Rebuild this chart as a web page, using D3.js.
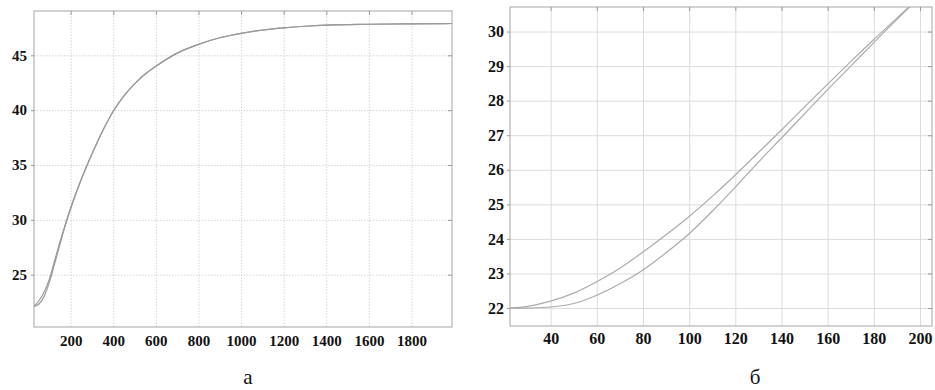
<!DOCTYPE html>
<html>
<head>
<meta charset="utf-8">
<script src="https://cdn.jsdelivr.net/npm/d3@7"></script>
<style>
  body { margin: 0; background: #fff; }
  svg { display: block; }
</style>
</head>
<body>
<script>
// panel a — full transient
const aX = [28, 50, 75, 100, 125, 150, 175, 200, 250, 300, 350, 400, 450, 500, 550, 600, 700, 800, 900, 1000, 1100, 1200, 1300, 1400, 1600, 1800, 1990]
const aY1 = [22.1, 22.3, 23.0, 24.3, 26.0, 27.8, 29.5, 31.0, 33.7, 36.0, 38.1, 39.9, 41.3, 42.4, 43.3, 44.0, 45.2, 46.0, 46.6, 47.0, 47.3, 47.5, 47.65, 47.75, 47.83, 47.87, 47.9]
const aY2 = [22.1, 22.6, 23.4, 24.6, 26.3, 28.0, 29.6, 31.1, 33.7, 36.0, 38.1, 39.9, 41.3, 42.4, 43.3, 44.0, 45.2, 46.0, 46.6, 47.0, 47.3, 47.5, 47.65, 47.75, 47.83, 47.87, 47.9]
const aXTicks = [200, 400, 600, 800, 1000, 1200, 1400, 1600, 1800]
const aYTicks = [25, 30, 35, 40, 45]

// panel б — zoom on the start
const bX = [22.4, 30, 40, 50, 60, 70, 80, 90, 100, 110, 120, 130, 140, 150, 160, 170, 180, 190, 200]
const bUpper = [22.0, 22.05, 22.2, 22.43, 22.76, 23.15, 23.62, 24.12, 24.65, 25.23, 25.85, 26.5, 27.15, 27.82, 28.48, 29.13, 29.77, 30.39, 31.0]
const bLower = [22.0, 22.0, 22.03, 22.13, 22.37, 22.7, 23.1, 23.6, 24.15, 24.8, 25.5, 26.22, 26.92, 27.62, 28.32, 29.0, 29.68, 30.35, 31.0]
const bXTicks = [40, 60, 80, 100, 120, 140, 160, 180, 200]
const bYTicks = [22, 23, 24, 25, 26, 27, 28, 29, 30]

const svg = d3.select("body").append("svg").attr("width", 935).attr("height", 390)
const serif = "'Liberation Serif', 'DejaVu Serif', serif"

function drawPanel(p) {
    const x = d3.scaleLinear().domain(p.xDomain).range([p.left, p.right])
    const y = d3.scaleLinear().domain(p.yDomain).range([p.bottom, p.top])
    const g = svg.append("g")
    const clipId = "clip-" + p.name

    g.append("clipPath").attr("id", clipId)
        .append("rect")
        .attr("x", p.left).attr("y", p.top)
        .attr("width", p.right - p.left).attr("height", p.bottom - p.top)

    // grid
    g.append("g")
        .attr("transform", `translate(0,${p.bottom})`)
        .call(d3.axisBottom(x).tickValues(p.xTicks).tickSize(-(p.bottom - p.top)).tickFormat(""))
        .call(s => s.select(".domain").remove())
        .selectAll("line").attr("stroke", p.gridColor).attr("stroke-dasharray", p.gridDash)
    g.append("g")
        .attr("transform", `translate(${p.left},0)`)
        .call(d3.axisLeft(y).tickValues(p.yTicks).tickSize(-(p.right - p.left)).tickFormat(""))
        .call(s => s.select(".domain").remove())
        .selectAll("line").attr("stroke", p.gridColor).attr("stroke-dasharray", p.gridDash)

    // frame
    g.append("rect")
        .attr("x", p.left).attr("y", p.top)
        .attr("width", p.right - p.left).attr("height", p.bottom - p.top)
        .attr("fill", "none").attr("stroke", "#b4b4b4").attr("stroke-width", 1.2)

    // small inner tick marks on top and right edges
    g.append("g").attr("transform", `translate(0,${p.top})`)
        .call(d3.axisTop(x).tickValues(p.xTicks).tickSize(-4).tickFormat(""))
        .call(s => s.select(".domain").remove())
        .selectAll("line").attr("stroke", "#999")
    g.append("g").attr("transform", `translate(${p.right},0)`)
        .call(d3.axisRight(y).tickValues(p.yTicks).tickSize(-4).tickFormat(""))
        .call(s => s.select(".domain").remove())
        .selectAll("line").attr("stroke", "#999")

    // labels
    g.append("g")
        .attr("transform", `translate(0,${p.bottom})`)
        .call(d3.axisBottom(x).tickValues(p.xTicks).tickSize(0).tickPadding(p.xPad).tickFormat(d3.format("d")))
        .call(s => s.select(".domain").remove())
        .attr("font-family", serif).attr("font-size", p.fontSize)
        .selectAll("text").attr("font-weight", "bold").attr("fill", "#111")
    g.append("g")
        .attr("transform", `translate(${p.left},0)`)
        .call(d3.axisLeft(y).tickValues(p.yTicks).tickSize(3).tickPadding(p.yPad).tickFormat(d3.format("d")))
        .call(s => s.select(".domain").remove())
        .call(s => s.selectAll("line").attr("stroke", "#999"))
        .attr("font-family", serif).attr("font-size", p.fontSize)
        .selectAll("text").attr("font-weight", "bold").attr("fill", "#111")

    const line = d3.line().x(d => x(d[0])).y(d => y(d[1])).curve(d3.curveMonotoneX)
    p.series.forEach(ys => {
        g.append("path")
            .datum(p.xs.map((v, i) => [v, ys[i]]))
            .attr("clip-path", `url(#${clipId})`)
            .attr("d", line)
            .attr("fill", "none")
            .attr("stroke", p.lineColor)
            .attr("stroke-width", 1.2)
    })

    svg.append("text")
        .attr("x", p.captionX).attr("y", 384)
        .attr("text-anchor", "middle")
        .attr("font-family", serif)
        .attr("font-size", 21)
        .attr("fill", "#111")
        .text(p.caption)
}

drawPanel({
    name: "a", left: 34, right: 452, top: 11, bottom: 327,
    xDomain: [28, 1990], yDomain: [20.23, 49.04],
    xTicks: aXTicks, yTicks: aYTicks, xs: aX, series: [aY1, aY2],
    gridColor: "#d4d4d4", gridDash: "1.5,1.5", lineColor: "#9a9a9a",
    fontSize: 15, xPad: 8, yPad: 4,
    caption: "а", captionX: 248
})

drawPanel({
    name: "b", left: 510, right: 932, top: 7, bottom: 326,
    xDomain: [22.4, 205.2], yDomain: [21.48, 30.71],
    xTicks: bXTicks, yTicks: bYTicks, xs: bX, series: [bUpper, bLower],
    gridColor: "#dcdcdc", gridDash: null, lineColor: "#ababab",
    fontSize: 16, xPad: 7, yPad: 3,
    caption: "б", captionX: 755
})
</script>
</body>
</html>
